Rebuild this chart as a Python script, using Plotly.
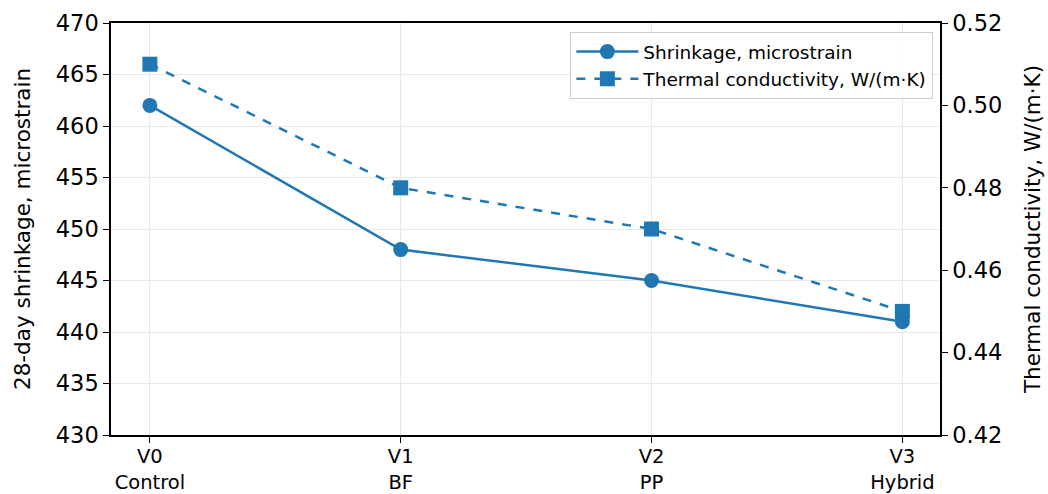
import plotly.graph_objects as go

categories = ["V0<br>Control", "V1<br>BF", "V2<br>PP", "V3<br>Hybrid"]
shrinkage = [462, 448, 445, 441]
thermal = [0.51, 0.48, 0.47, 0.45]
left_ticks = [430, 435, 440, 445, 450, 455, 460, 465, 470]
right_ticks = [0.42, 0.44, 0.46, 0.48, 0.50, 0.52]

color = "#1f77b4"
xs = list(range(len(categories)))

fig = go.Figure()
fig.add_trace(go.Scatter(
    x=xs, y=shrinkage, mode="lines+markers", name="Shrinkage, microstrain",
    line=dict(color=color, width=2.5), marker=dict(symbol="circle", size=15, color=color),
    yaxis="y"))
fig.add_trace(go.Scatter(
    x=xs, y=thermal, mode="lines+markers", name="Thermal conductivity, W/(m·K)",
    line=dict(color=color, width=2.5, dash="dash"), marker=dict(symbol="square", size=15, color=color),
    yaxis="y2"))

yfont = dict(family="DejaVu Sans", size=22.5, color="black")
xfont = dict(family="DejaVu Sans", size=19.5, color="black")
fig.update_layout(
    width=1048, height=494,
    margin=dict(l=111, r=108, t=23, b=59),
    paper_bgcolor="white", plot_bgcolor="white",
    font=dict(family="DejaVu Sans", color="black"),
    showlegend=True,
    legend=dict(x=0.992, y=0.978, xanchor="right", yanchor="top",
                bgcolor="rgba(255,255,255,0.8)", bordercolor="#cccccc", borderwidth=1,
                font=dict(size=18.5), itemwidth=62, tracegroupgap=0),
    xaxis=dict(range=[-0.155, 3.15], tickmode="array", tickvals=xs, ticktext=categories,
               showline=True, linecolor="black", linewidth=1.5, mirror=True,
               ticks="outside", ticklen=6, tickcolor="black", automargin=False,
               ticklabelstandoff=-3,
               showgrid=True, gridcolor="#e8e8e8", gridwidth=1,
               tickfont=xfont, zeroline=False),
    yaxis=dict(range=[430, 470], tickvals=left_ticks,
               showline=True, linecolor="black", linewidth=1.5,
               ticks="outside", ticklen=6, tickcolor="black", automargin=False,
               showgrid=True, gridcolor="#e8e8e8", gridwidth=1,
               tickfont=yfont, zeroline=False,
               title=dict(text="28-day shrinkage, microstrain", font=dict(size=21.5), standoff=19)),
    yaxis2=dict(range=[0.42, 0.52], tickvals=right_ticks, tickformat=".2f",
                overlaying="y", side="right",
                showline=True, linecolor="black", linewidth=1.5,
                ticks="outside", ticklen=6, tickcolor="black", automargin=False,
                showgrid=False, tickfont=yfont, zeroline=False,
                title=dict(text="Thermal conductivity, W/(m·K)", font=dict(size=21.5), standoff=24)),
)

fig.write_html("out.html")
